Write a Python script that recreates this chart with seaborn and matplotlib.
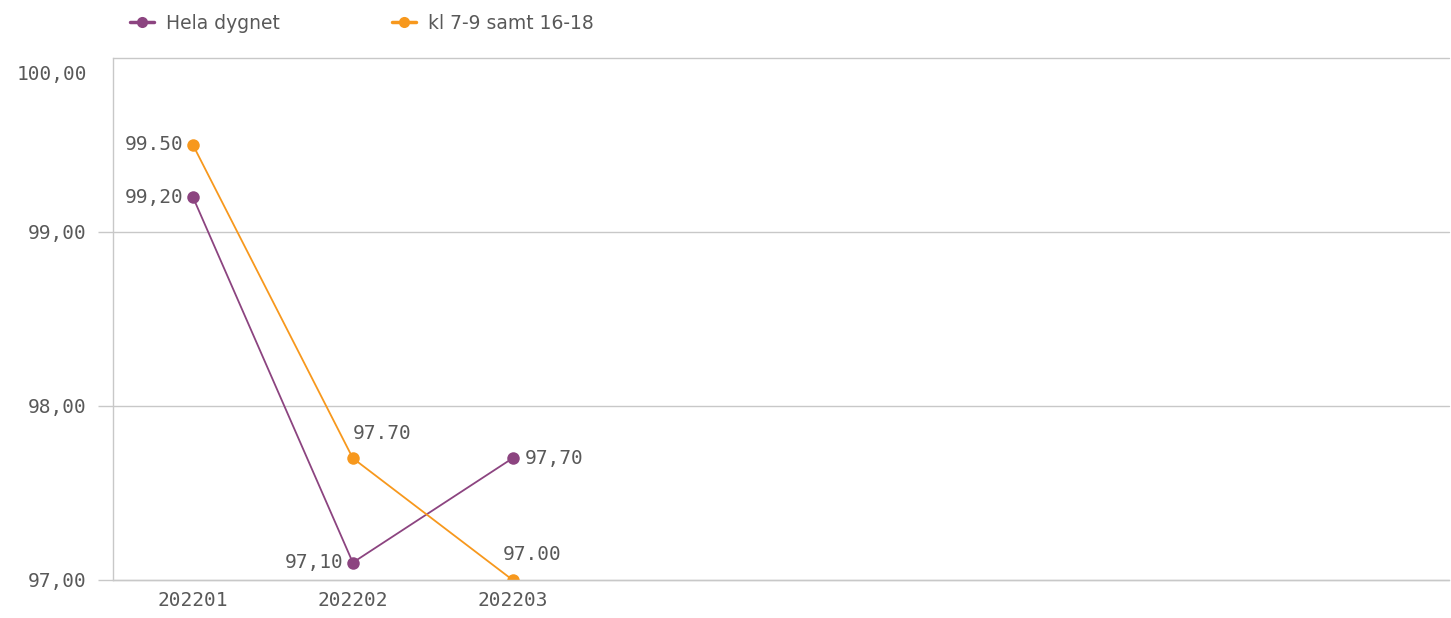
import pandas as pd
import numpy as np
import seaborn as sns
import matplotlib.pyplot as plt
from matplotlib.lines import Line2D
from matplotlib.transforms import offset_copy

# Chart data
periods = ['202201', '202202', '202203']
hela_dygnet = [99.2, 97.1, 97.7]
rusning = [99.5, 97.7, 97.0]
series_names = ['Hela dygnet', 'kl 7-9 samt 16-18']
colors = ['#8C4480', '#F7981D']
y_ticks = [97, 98, 99, 100]

df = pd.DataFrame({
    'period': periods * 2,
    'value': hela_dygnet + rusning,
    'serie': [series_names[0]] * 3 + [series_names[1]] * 3,
})

sns.set_style('white')
plt.rcParams['font.family'] = ['DejaVu Sans Mono', 'DejaVu Sans']

fig = plt.figure(figsize=(14.51, 6.18), dpi=100)
ax = fig.add_axes([0.0779, 0.0615, 0.921, 0.8447])

sns.lineplot(data=df, x='period', y='value', hue='serie', palette=colors,
             marker='o', markersize=9, markeredgewidth=0, linewidth=1.3,
             legend=False, ax=ax)

ax.set_xlim(-0.5, 7.86)
ax.set_ylim(97, 100)
ax.set_yticks(y_ticks)
ax.set_yticklabels([f'{v:.2f}'.replace('.', ',') for v in y_ticks])
ax.set_xlabel('')
ax.set_ylabel('')

grey = '#c8c8c8'
text_grey = '#595959'
for v in y_ticks:
    ax.axhline(v, color=grey, linewidth=1, zorder=0, clip_on=False)
ax.tick_params(axis='y', left=True, length=11, color=grey, width=1, pad=8,
               labelsize=14, labelcolor=text_grey)
ax.tick_params(axis='x', bottom=False, length=0, pad=8, labelsize=14,
               labelcolor=text_grey)
# top label sits inside the plot in the original, with no tick mark
ax.yaxis.get_major_ticks()[-1].tick1line.set_visible(False)
top_lab = ax.get_yticklabels()[-1]
top_lab.set_transform(offset_copy(top_lab.get_transform(), fig=fig, x=0, y=-15, units='dots'))

for s in ['top', 'right']:
    ax.spines[s].set_visible(False)
for s in ['left', 'bottom']:
    ax.spines[s].set_color(grey)
    ax.spines[s].set_linewidth(1)

# Data labels
lab_kw = dict(fontsize=14, color=text_grey, va='center')
for i, v in enumerate(hela_dygnet):
    txt = f'{v:.2f}'.replace('.', ',')
    if i == 2:
        ax.annotate(txt, (i, v), xytext=(9, 0), textcoords='offset points', ha='left', **lab_kw)
    else:
        ax.annotate(txt, (i, v), xytext=(-7, 0), textcoords='offset points', ha='right', **lab_kw)
for i, v in enumerate(rusning):
    txt = f'{v:.2f}'
    if i == 0:
        ax.annotate(txt, (i, v), xytext=(-7, 0), textcoords='offset points', ha='right', **lab_kw)
    else:
        dx = 0 if i == 1 else -7
        ax.annotate(txt, (i, v), xytext=(dx, 18), textcoords='offset points', ha='left',
                    annotation_clip=False, **lab_kw)

# Legend
handles = [Line2D([0], [0], color=c, marker='o', markersize=8, linewidth=2.5,
                  markeredgewidth=0) for c in colors]
fig.legend(handles, series_names, loc='upper left', bbox_to_anchor=(0.078, 1.005),
           ncol=2, frameon=False, handlelength=1.3, handletextpad=0.6,
           columnspacing=6.0, prop={'family': 'DejaVu Sans', 'size': 13.5},
           labelcolor=text_grey)

fig.savefig('out.png', dpi=100)
